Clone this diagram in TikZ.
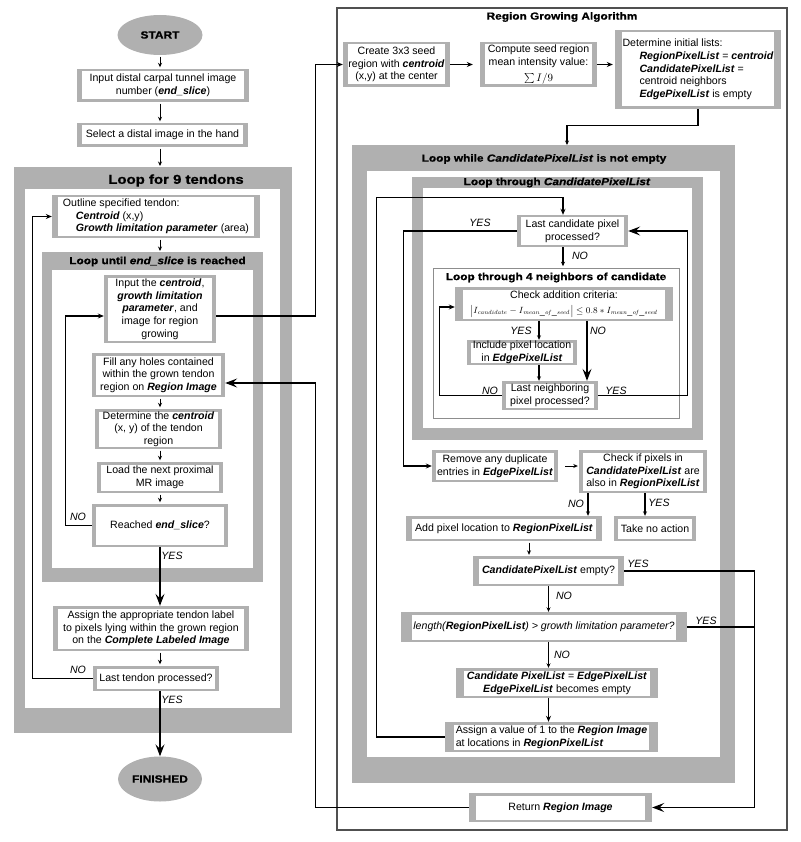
\documentclass[tikz,border=0pt]{standalone}
\usepackage[no-math]{fontspec}
\setmainfont{Liberation Sans}
\newfontfamily\blackfont[FakeStretch=1.15, FakeBold=0.8]{Liberation Sans}
\usetikzlibrary{arrows.meta, shapes.geometric}

\definecolor{barcol}{HTML}{B0B0B0}
\definecolor{framecol}{HTML}{505050}

\newcommand{\bi}[1]{\textbf{\textit{#1}}}
\newcommand{\bodysize}{\fontsize{10.6}{12.7}\selectfont}
\newcommand{\titlesize}{\blackfont\bfseries\fontsize{10.3}{12}\selectfont}
\newcommand{\barw}{5pt}

\tikzset{
  barw/.code={\def\barw{#1}},
  procbox/.style={fill=barcol, inner sep=0pt, align=center, font=\bodysize,
    path picture={\fill[white] ([xshift=\barw, yshift=2.5pt]path picture bounding box.south west)
      rectangle ([xshift=-\barw, yshift=-2.5pt]path picture bounding box.north east);}},
  endpoint/.style={ellipse, fill=barcol, inner sep=0pt,
    font=\blackfont\bfseries\fontsize{10.4}{12}\selectfont},
  looptitle/.style={inner sep=0pt, font=\titlesize},
  lbl/.style={inner sep=0pt, font=\bodysize\itshape},
}

\begin{document}
\begin{tikzpicture}[x=1pt, y=-1pt,
    conn/.style={line width=1.2pt},
    smallarrow/.style={line width=0.9pt, -{Stealth[length=4.5pt, width=4pt]}},
    midarrow/.style={line width=1.2pt, -{Stealth[length=6pt, width=5pt]}},
    bigarrow/.style={line width=1.2pt, -{Stealth[length=12pt, width=9pt, inset=4.5pt]}}]
  \useasboundingbox (0,0) rectangle (800,842);

  % loop frames, left
  \fill[barcol] (14,167) rectangle (292,733);
  \fill[white] (25,189) rectangle (280,708);
  \fill[barcol] (42,252) rectangle (263,582);
  \fill[white] (52,270) rectangle (253,568);
  \coordinate (loop9top) at (160,167);
  \coordinate (loopendtop) at (160,252);

  % region growing frames, right
  \draw[framecol, line width=1.6pt] (337,8) rectangle (787,830);
  \fill[barcol] (352,145) rectangle (735,783);
  \fill[white] (367,171) rectangle (720,757);
  \fill[barcol] (412,177) rectangle (703,440);
  \fill[white] (423,188) rectangle (692,428);
  \draw[barcol!80!black, line width=0.6pt] (433,268) rectangle (679,418);
  \coordinate (whiletop) at (567,145);

  \node[looptitle, font=\blackfont\bfseries\fontsize{13}{15}\selectfont] (loop9) at (176,180.5) {Loop for 9 tendons};
  \node[looptitle] (loopend) at (157.5,261.5) {Loop until \textit{end\_slice} is reached};
  \node[looptitle] (rgtitle) at (562,17) {Region Growing Algorithm};
  \node[looptitle] (loopwhile) at (544,159) {Loop while \textit{CandidatePixelList} is not empty};
  \node[looptitle] (loopcand) at (557,182.5) {Loop through \textit{CandidatePixelList}};
  \node[looptitle] (loopnb) at (556,277.5) {Loop through 4 neighbors of candidate};

  % main flow
  \node[endpoint, minimum width=85pt, minimum height=40pt] (start) at (160,35) {START};
  \node[procbox, minimum width=172pt, minimum height=33pt] (inputslice) at (163,85.5)
    {Input distal carpal tunnel image\\number (\bi{end\_slice})};
  \node[procbox, minimum width=171pt, minimum height=24pt] (selimg) at (162.5,135)
    {Select a distal image in the hand};
  \node[procbox, align=left, barw=6pt, minimum width=208pt, minimum height=43pt] (outline) at (156,216.5)
    {Outline specified tendon:\\\hspace*{13pt}\bi{Centroid} (x,y)\\\hspace*{13pt}\bi{Growth limitation parameter} (area)};
  \node[procbox, barw=4pt, minimum width=112pt, minimum height=68pt] (inputcent) at (160,309)
    {Input the \bi{centroid},\\\bi{growth limitation}\\\bi{parameter}, and\\image for region\\growing};
  \node[procbox, barw=4pt, minimum width=133pt, minimum height=44pt] (fillholes) at (158.5,375)
    {Fill any holes contained\\within the grown tendon\\region on \bi{Region Image}};
  \node[procbox, barw=4pt, minimum width=127pt, minimum height=40pt] (detcent) at (158.5,429)
    {Determine the \bi{centroid}\\(x, y) of the tendon\\region};
  \node[procbox, barw=4pt, minimum width=126pt, minimum height=31pt] (loadnext) at (160,477.5)
    {Load the next proximal\\MR image};
  \node[procbox, barw=4pt, minimum width=136pt, minimum height=43pt] (reached) at (160,525.5)
    {Reached \bi{end\_slice}?};
  \node[procbox, minimum width=196pt, minimum height=45pt] (assignlabel) at (151,628.5)
    {Assign the appropriate tendon label\\to pixels lying within the grown region\\on the \bi{Complete Labeled Image}};
  \node[procbox, barw=4pt, minimum width=126pt, minimum height=25pt] (lasttendon) at (156,678.5)
    {Last tendon processed?};
  \node[endpoint, minimum width=84pt, minimum height=45pt] (finished) at (160,779) {FINISHED};

  % region growing
  \node[procbox, minimum width=107pt, minimum height=45pt] (seed) at (396.5,64.5)
    {Create 3x3 seed\\region with \bi{centroid}\\(x,y) at the center};
  \node[procbox, minimum width=117pt, minimum height=45pt] (meanint) at (538.5,64.5)
    {Compute seed region\\mean intensity value:\\[3pt]$\sum I/9$};
  \node[procbox, align=left, barw=7pt, minimum width=166pt, minimum height=79pt] (initlists) at (698,69.5)
    {Determine initial lists:\\\hspace*{17pt}\bi{RegionPixelList} = \bi{centroid}\\\hspace*{17pt}\bi{CandidatePixelList} =\\\hspace*{17pt}centroid neighbors\\\hspace*{17pt}\bi{EdgePixelList} is empty};
  \node[procbox, barw=4pt, minimum width=111pt, minimum height=32pt] (lastcand) at (572.5,231)
    {Last candidate pixel\\processed?};
  \node[procbox, barw=8pt, minimum width=218pt, minimum height=34pt] (check) at (564,304)
    {Check addition criteria:\\[2pt]{\fontsize{9}{10}\selectfont$\bigl|I_{\mathit{candidate}}-I_{\mathit{mean\_of\_seed}}\bigr|\le 0.8*I_{\mathit{mean\_of\_seed}}$}};
  \node[procbox, barw=4pt, minimum width=110pt, minimum height=25pt] (include) at (522,352.5)
    {Include pixel location\\in \bi{EdgePixelList}};
  \node[procbox, barw=4pt, minimum width=96pt, minimum height=29pt] (lastnb) at (550,395.5)
    {Last neighboring\\pixel processed?};
  \node[procbox, barw=4pt, minimum width=126pt, minimum height=32pt] (remdup) at (495,466)
    {Remove any duplicate\\entries in \bi{EdgePixelList}};
  \node[procbox, barw=4pt, minimum width=128pt, minimum height=43pt] (checkin) at (643,471.5)
    {Check if pixels in\\\bi{CandidatePixelList} are\\also in \bi{RegionPixelList}};
  \node[procbox, barw=6pt, minimum width=196pt, minimum height=25pt] (addpix) at (504,528.5)
    {Add pixel location to \bi{RegionPixelList}};
  \node[procbox, barw=4pt, minimum width=82pt, minimum height=25pt] (noaction) at (655,528.5)
    {Take no action};
  \node[procbox, barw=6pt, minimum width=151pt, minimum height=30pt] (candempty) at (548.5,571)
    {\bi{CandidatePixelList} empty?};
  \node[procbox, barw=11pt, minimum width=286pt, minimum height=30pt] (lengthq) at (544,627)
    {\textit{length(\textbf{RegionPixelList}) > growth limitation parameter?}};
  \node[procbox, barw=8pt, minimum width=202pt, minimum height=30pt] (swap) at (557,683)
    {\bi{Candidate PixelList} = \bi{EdgePixelList}\\\bi{EdgePixelList} becomes empty};
  \node[procbox, align=left, barw=9pt, minimum width=213pt, minimum height=30pt] (assignone) at (551.5,737)
    {Assign a value of 1 to the \bi{Region Image}\\at locations in \bi{RegionPixelList}};
  \node[procbox, barw=7pt, minimum width=183pt, minimum height=29pt] (retimg) at (560.5,807.5)
    {Return \bi{Region Image}};

  \coordinate (candin) at ([xshift=-9.5pt]lastcand.north);
  \coordinate (candout) at ([xshift=-9.5pt]lastcand.south);

  % left connectors
  \foreach \a/\b in {start/inputslice, inputslice/selimg, fillholes/detcent,
      detcent/loadnext, loadnext/reached, assignlabel/lasttendon} {
    \draw[smallarrow, shorten <=1.5pt, shorten >=1.5pt] (\a.south -| start) -- (\b.north -| start);
  }
  \draw[smallarrow, shorten <=1.5pt, shorten >=1pt] (selimg.south -| start) -- (loop9top);
  \draw[smallarrow, shorten <=1.5pt, shorten >=1pt] (outline.south -| start) -- (loopendtop);
  \draw[bigarrow] (reached.south -| start) -- (assignlabel.north -| start);
  \draw[bigarrow] (lasttendon.south -| start) -- (finished.north);
  \draw[midarrow] (reached.west) -- ++(-26,0) |- ([yshift=-7pt]inputcent.west);
  \draw[midarrow] (lasttendon.west) -- ++(-60,0) |- (outline.west);
  \draw[midarrow] ([yshift=-7pt]inputcent.east) -- ++(99,0) |- (seed.west);
  \draw[bigarrow] (retimg.west) -| ([xshift=90pt, yshift=-8pt]fillholes.east) -- ([yshift=-8pt]fillholes.east);

  % region growing connectors
  \draw[midarrow, shorten >=7pt] (seed.east) -- (meanint.west);
  \draw[midarrow, shorten >=2pt] (meanint.east) -- (meanint.east -| initlists.west);
  \draw[smallarrow, line width=1.2pt] (initlists.south) -- ++(0,16) -| (whiletop);
  \draw[midarrow] (assignone.west) -- ++(-68,0) |- ([yshift=17pt]candin) -- (candin);
  \draw[midarrow] (lastcand.west) -- ++(-113,0) |- (remdup.west);
  \draw[smallarrow, line width=1.2pt] (candout) -- ++(0,19);
  \draw[bigarrow] (lastnb.east) -- ++(89,0) |- (lastcand.east);
  \draw[midarrow] (lastnb.west) -- ++(-62,0) |- ([yshift=-3pt]check.west);
  \draw[smallarrow, line width=1.2pt] ([xshift=-25pt]check.south) -- ([xshift=-25pt]check.south |- include.north);
  \draw[bigarrow] ([xshift=23pt]check.south) -- ([xshift=23pt]check.south |- lastnb.north);
  \draw[smallarrow, line width=1.2pt] ([xshift=17pt]include.south) -- ([xshift=17pt]include.south |- lastnb.north);
  \draw[smallarrow, shorten <=7pt, shorten >=1pt] (remdup.east) -- (remdup.east -| checkin.west);
  \draw[smallarrow, line width=1.2pt] ([xshift=-55pt]checkin.south) -- ([xshift=-55pt]checkin.south |- addpix.north);
  \draw[smallarrow, line width=1.2pt] ([xshift=2pt]checkin.south) -- ([xshift=2pt]checkin.south |- noaction.north);
  \draw[smallarrow, shorten <=1.5pt, shorten >=1pt] ([xshift=25pt]addpix.south) -- ([xshift=25pt]addpix.south |- candempty.north);
  \draw[smallarrow, line width=1.2pt] (candempty.south) -- (candempty.south |- lengthq.north);
  \draw[smallarrow, line width=1.2pt] (candempty.south |- lengthq.south) -- (candempty.south |- swap.north);
  \draw[midarrow] (candempty.south |- swap.south) -- (candempty.south |- assignone.north);
  \draw[bigarrow] (candempty.east) -- ++(130,0) |- (retimg.east);
  \draw[conn] (lengthq.east) -- ++(67,0);

  % branch labels
  \node[lbl] (noreach) at (78,517) {NO};
  \node[lbl] (yesreach) at (172,556) {YES};
  \node[lbl] (nolast) at (78,670) {NO};
  \node[lbl] (yeslast) at (172,700) {YES};
  \node[lbl] (yescand) at (480,223) {YES};
  \node[lbl] (nocand) at (580,256) {NO};
  \node[lbl] (yescheck) at (521,331) {YES};
  \node[lbl] (nocheck) at (598,331) {NO};
  \node[lbl] (nonb) at (490,391) {NO};
  \node[lbl] (yesnb) at (616,391) {YES};
  \node[lbl] (noin) at (576,504) {NO};
  \node[lbl] (yesin) at (659,503) {YES};
  \node[lbl] (yesempty) at (638,564) {YES};
  \node[lbl] (noempty) at (564,596) {NO};
  \node[lbl] (yeslen) at (706,621) {YES};
  \node[lbl] (nolen) at (562,655) {NO};
\end{tikzpicture}
\end{document}
